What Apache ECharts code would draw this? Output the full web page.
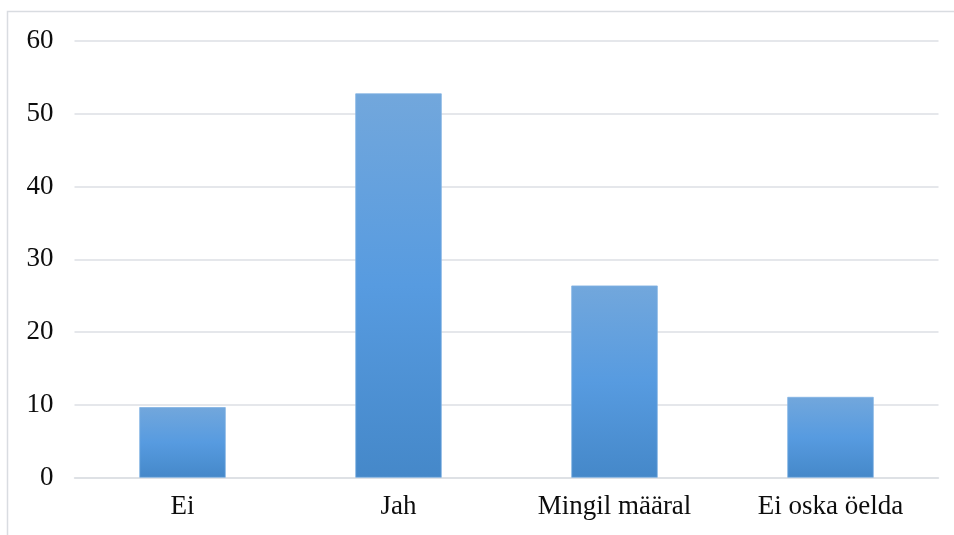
<!DOCTYPE html>
<html>
<head>
<meta charset="utf-8">
<script src="https://cdn.jsdelivr.net/npm/echarts@6/dist/echarts.min.js"></script>
<style>
  html, body { margin: 0; padding: 0; background: #ffffff; }
  #chart { width: 954px; height: 535px; }
</style>
</head>
<body>
<div id="chart"></div>
<script>
// Answer categories and their shares (%)
const categories = ['Ei', 'Jah', 'Mingil määral', 'Ei oska öelda'];
const values = [9.7, 52.8, 26.4, 11.1];
const yTicks = { min: 0, max: 60, interval: 10 };

const chart = echarts.init(document.getElementById('chart'), null, { renderer: 'canvas' });

const font = '"Liberation Serif", "Times New Roman", serif';
const gridColor = '#dcdfe4';

chart.setOption({
  animation: false,
  backgroundColor: '#ffffff',
  graphic: [{
    type: 'rect',
    shape: { x: 7.5, y: 11.5, width: 1000, height: 600 },
    style: { fill: 'none', stroke: '#d9dce1', lineWidth: 1.5 },
    silent: true
  }],
  grid: { left: 74.5, right: 15.5, top: 41, bottom: 57.3, containLabel: false },
  xAxis: {
    type: 'category',
    data: categories,
    axisLine: { show: true, lineStyle: { color: gridColor, width: 1.5 } },
    axisTick: { show: false },
    axisLabel: { color: '#0d0d0d', fontFamily: font, fontSize: 27, margin: 16 }
  },
  yAxis: {
    type: 'value',
    min: yTicks.min,
    max: yTicks.max,
    interval: yTicks.interval,
    axisLine: { show: false },
    axisTick: { show: false },
    splitLine: { lineStyle: { color: gridColor, width: 1.5 } },
    axisLabel: { color: '#0d0d0d', fontFamily: font, fontSize: 27, margin: 21 }
  },
  series: [{
    type: 'bar',
    data: values,
    barWidth: '40%',
    itemStyle: {
      color: new echarts.graphic.LinearGradient(0, 0, 0, 1, [
        { offset: 0, color: '#72a7dc' },
        { offset: 0.5, color: '#579be0' },
        { offset: 1, color: '#4588c9' }
      ]),
      borderColor: '#82b2e2',
      borderWidth: 0.8
    }
  }]
});
</script>
</body>
</html>
